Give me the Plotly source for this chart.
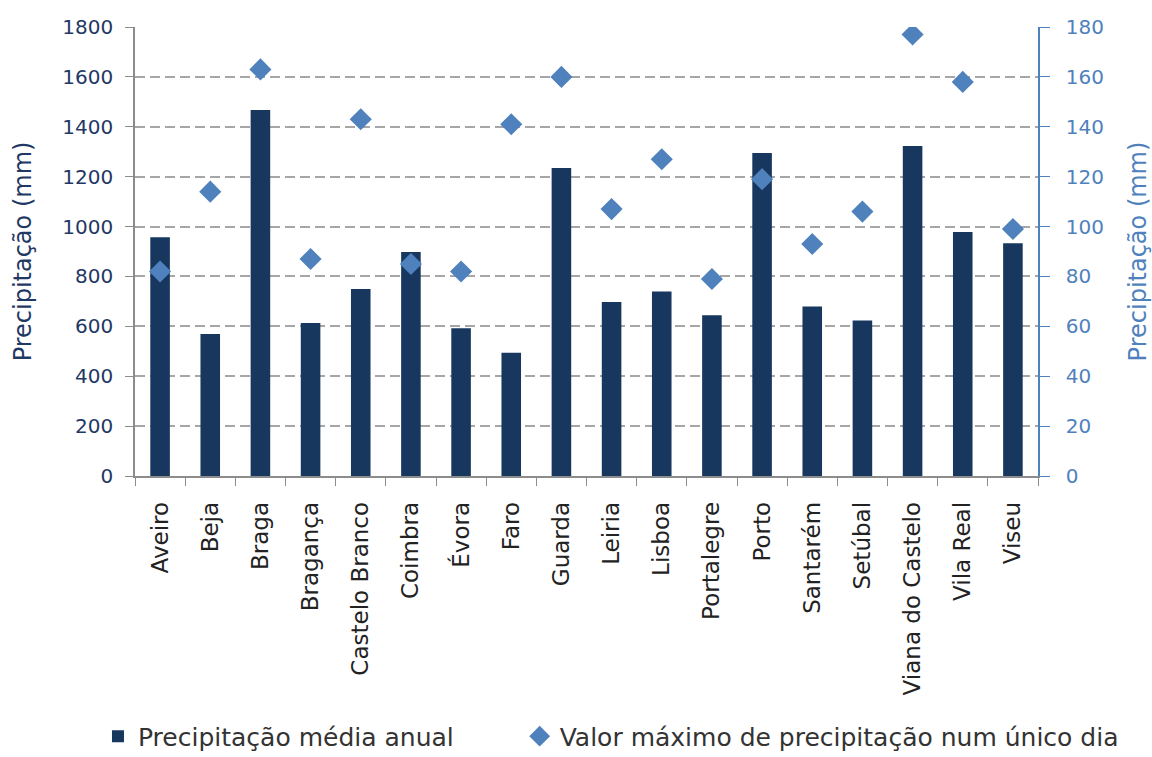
import plotly.graph_objects as go

# Distritos de Portugal continental
cities = ["Aveiro", "Beja", "Braga", "Bragança", "Castelo Branco", "Coimbra",
          "Évora", "Faro", "Guarda", "Leiria", "Lisboa", "Portalegre", "Porto",
          "Santarém", "Setúbal", "Viana do Castelo", "Vila Real", "Viseu"]

# Precipitação média anual (mm) - eixo esquerdo
annual_mm = [957, 569, 1467, 613, 750, 898, 592, 494, 1235, 698, 740, 644,
             1295, 680, 623, 1323, 978, 933]

# Valor máximo de precipitação num único dia (mm) - eixo direito
max_day_mm = [82, 114, 163, 87, 143, 85, 82, 141, 160, 107, 127, 79, 119,
              93, 106, 177, 158, 99]

left_ticks = [0, 200, 400, 600, 800, 1000, 1200, 1400, 1600, 1800]
right_ticks = [0, 20, 40, 60, 80, 100, 120, 140, 160, 180]

NAVY = "#17375e"
BLUE = "#4f81bd"
FONT = "DejaVu Sans"

fig = go.Figure()
fig.add_trace(go.Bar(
    x=cities, y=annual_mm, name="Precipitação média anual",
    marker=dict(color=NAVY, line=dict(width=0)),
    yaxis="y", legend="legend",
))
fig.add_trace(go.Scatter(
    x=cities, y=max_day_mm, name="Valor máximo de precipitação num único dia",
    mode="markers",
    marker=dict(symbol="diamond", size=17, color=BLUE, line=dict(width=0)),
    yaxis="y2", legend="legend2",
))

legend_style = dict(
    orientation="h", xanchor="left", yanchor="middle",
    font=dict(family=FONT, size=25, color="#333333"),
    itemwidth=30, bgcolor="rgba(0,0,0,0)",
)

fig.update_layout(
    width=1152, height=757,
    margin=dict(l=135, r=114, t=27, b=281, autoexpand=False),
    paper_bgcolor="white", plot_bgcolor="white",
    font=dict(family=FONT, size=20, color="#222222"),
    bargap=0.61,
    showlegend=True,
    legend=dict(x=-0.041, y=-0.58, **legend_style),
    legend2=dict(x=0.426, y=-0.58, **legend_style),
    xaxis=dict(
        type="category", range=[-0.5, len(cities) - 0.5], tickangle=-90,
        showline=True, linecolor="#8c8c8c", linewidth=1.5,
        ticks="outside", ticklen=8, tickcolor="#8c8c8c", tickson="boundaries",
        ticklabelstandoff=15,
        tickfont=dict(family=FONT, size=23, color="#222222"),
        showgrid=False, automargin=False,
    ),
    yaxis=dict(
        range=[0, 1800], tickvals=left_ticks,
        showline=True, linecolor="#8c8c8c", linewidth=1.5,
        ticks="outside", ticklen=8, tickcolor="#8c8c8c",
        ticklabelstandoff=8,
        tickfont=dict(family=FONT, size=20, color="#1f3864"),
        showgrid=True, gridcolor="#a6a6a6", gridwidth=1.5, griddash="10px,5px",
        zeroline=False, automargin=False,
        title=dict(text="Precipitação (mm)", standoff=24,
                   font=dict(family=FONT, size=24, color="#1f3864")),
    ),
    yaxis2=dict(
        range=[0, 180], tickvals=right_ticks, overlaying="y", side="right",
        showline=True, linecolor=BLUE, linewidth=1.5,
        ticks="outside", ticklen=10, tickcolor=BLUE,
        ticklabelstandoff=12,
        tickfont=dict(family=FONT, size=20, color=BLUE),
        showgrid=False, zeroline=False, automargin=False,
        title=dict(text="Precipitação (mm)", standoff=30,
                   font=dict(family=FONT, size=24, color=BLUE)),
    ),
)

fig.write_html("out.html")
